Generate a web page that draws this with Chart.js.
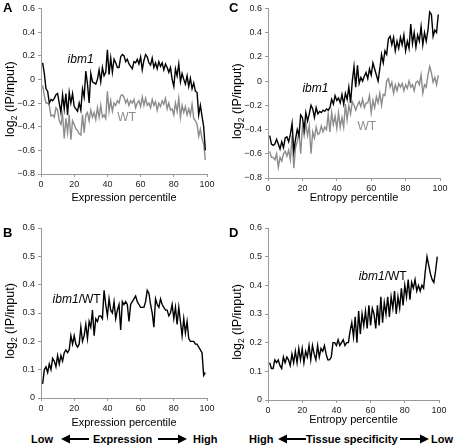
<!DOCTYPE html>
<html>
<head>
<meta charset="utf-8">
<script src="https://cdn.jsdelivr.net/npm/chart.js@4.4.1/dist/chart.umd.min.js"></script>
<style>
  html, body { margin: 0; padding: 0; background: #fff; }
  #fig { position: relative; width: 454px; height: 447px; font-family: "Liberation Sans", Arial, sans-serif; }
  canvas { position: absolute; }
  .letter { position: absolute; font-weight: bold; font-size: 13px; line-height: 14px; }
  .note { position: absolute; font-weight: bold; font-size: 11px; line-height: 14px; top: 432px; white-space: nowrap; }
  svg { position: absolute; }
</style>
</head>
<body>
<div id="fig">
  <canvas id="panelA" width="227" height="205" style="left:0;top:0"></canvas>
  <canvas id="panelC" width="227" height="205" style="left:227px;top:0"></canvas>
  <canvas id="panelB" width="227" height="220" style="left:0;top:210px"></canvas>
  <canvas id="panelD" width="227" height="220" style="left:227px;top:210px"></canvas>

  <div class="letter" style="left:3px;top:1px">A</div>
  <div class="letter" style="left:229px;top:1px">C</div>
  <div class="letter" style="left:3px;top:226px">B</div>
  <div class="letter" style="left:229px;top:226px">D</div>

  <div class="note" style="left:31px">Low</div>
  <svg style="left:61px;top:434px" width="28" height="10"><line x1="6" y1="5" x2="28" y2="5" stroke="#000" stroke-width="2"/><polygon points="0,5 9,0.5 9,9.5" fill="#000"/></svg>
  <div class="note" style="left:93px">Expression</div>
  <svg style="left:158px;top:434px" width="29" height="10"><line x1="0" y1="5" x2="22" y2="5" stroke="#000" stroke-width="2"/><polygon points="29,5 20,0.5 20,9.5" fill="#000"/></svg>
  <div class="note" style="left:193px">High</div>

  <div class="note" style="left:249px">High</div>
  <svg style="left:278px;top:434px" width="28" height="10"><line x1="6" y1="5" x2="28" y2="5" stroke="#000" stroke-width="2"/><polygon points="0,5 9,0.5 9,9.5" fill="#000"/></svg>
  <div class="note" style="left:306px">Tissue specificity</div>
  <svg style="left:400px;top:434px" width="29" height="10"><line x1="0" y1="5" x2="22" y2="5" stroke="#000" stroke-width="2"/><polygon points="29,5 20,0.5 20,9.5" fill="#000"/></svg>
  <div class="note" style="left:431px">Low</div>
</div>

<script>
const percentiles = [1,2,3,4,5,6,7,8,9,10,11,12,13,14,15,16,17,18,19,20,21,22,23,24,25,26,27,28,29,30,31,32,33,34,35,36,37,38,39,40,41,42,43,44,45,46,47,48,49,50,51,52,53,54,55,56,57,58,59,60,61,62,63,64,65,66,67,68,69,70,71,72,73,74,75,76,77,78,79,80,81,82,83,84,85,86,87,88,89,90,91,92,93,94,95,96,97,98,99]
const xTicks = [0, 20, 40, 60, 80, 100]

// A: log2(IP/input) vs expression percentile
const exprIbm1 = [0.14,0.05,-0.08,-0.10,-0.20,-0.17,-0.18,-0.16,-0.13,-0.12,
  -0.20,-0.28,-0.13,-0.25,-0.12,-0.30,-0.11,-0.20,-0.12,-0.23,
  -0.25,-0.27,-0.20,-0.26,-0.08,-0.15,0.07,-0.04,-0.20,0.05,
  -0.02,-0.03,-0.04,0.00,0.08,-0.02,0.10,0.03,0.06,0.25,
  0.04,0.18,0.06,0.17,0.14,0.10,0.10,0.19,0.21,0.20,
  0.15,0.17,0.13,0.11,0.09,0.15,0.14,0.17,0.13,0.19,
  0.08,0.16,0.21,0.19,0.14,0.12,0.18,0.10,0.14,0.09,
  0.15,0.11,0.14,0.08,0.13,0.10,0.06,0.10,0.00,-0.06,
  0.09,0.03,0.13,-0.02,0.05,0.00,-0.04,0.03,-0.06,0.01,
  -0.08,-0.03,-0.10,-0.11,-0.30,-0.22,-0.31,-0.40,-0.60]
const exprWT = [-0.05,-0.14,-0.20,-0.20,-0.22,-0.31,-0.30,-0.32,-0.24,-0.26,
  -0.35,-0.38,-0.30,-0.50,-0.33,-0.45,-0.30,-0.51,-0.35,-0.38,
  -0.42,-0.43,-0.46,-0.47,-0.30,-0.45,-0.30,-0.28,-0.35,-0.26,
  -0.32,-0.28,-0.34,-0.24,-0.32,-0.22,-0.32,-0.30,-0.33,-0.10,
  -0.27,-0.18,-0.27,-0.20,-0.22,-0.18,-0.20,-0.14,-0.13,-0.15,
  -0.20,-0.17,-0.22,-0.18,-0.20,-0.17,-0.24,-0.20,-0.18,-0.23,
  -0.15,-0.22,-0.16,-0.22,-0.20,-0.24,-0.17,-0.22,-0.19,-0.26,
  -0.20,-0.23,-0.18,-0.21,-0.16,-0.25,-0.20,-0.26,-0.25,-0.30,
  -0.20,-0.27,-0.16,-0.32,-0.22,-0.28,-0.23,-0.30,-0.25,-0.30,
  -0.21,-0.33,-0.35,-0.38,-0.48,-0.42,-0.50,-0.55,-0.68]

// C: log2(IP/input) vs entropy percentile
const entIbm1 = [-0.45,-0.52,-0.53,-0.52,-0.48,-0.52,-0.56,-0.50,-0.55,-0.47,
  -0.46,-0.50,-0.44,-0.35,-0.58,-0.48,-0.40,-0.45,-0.28,-0.30,
  -0.40,-0.26,-0.33,-0.27,-0.20,-0.23,-0.30,-0.22,-0.27,-0.25,
  -0.26,-0.24,-0.25,-0.23,-0.24,-0.22,-0.15,-0.19,-0.12,-0.16,
  -0.14,-0.18,-0.11,-0.19,-0.10,-0.15,-0.05,-0.18,0.00,0.12,
  -0.05,0.13,-0.02,0.03,0.00,0.04,0.07,0.02,0.10,0.05,
  0.15,0.10,0.05,0.00,0.10,0.22,0.15,0.25,0.22,0.35,
  0.37,0.30,0.36,0.25,0.33,0.27,0.36,0.30,0.38,0.25,
  0.33,0.27,0.47,0.31,0.40,0.28,0.38,0.33,0.45,0.30,
  0.40,0.33,0.42,0.57,0.55,0.37,0.42,0.40,0.55]
const entWT = [-0.58,-0.63,-0.63,-0.65,-0.60,-0.71,-0.63,-0.66,-0.60,-0.58,
  -0.62,-0.57,-0.65,-0.45,-0.72,-0.55,-0.50,-0.42,-0.60,-0.38,
  -0.45,-0.35,-0.45,-0.37,-0.60,-0.42,-0.47,-0.38,-0.44,-0.43,
  -0.37,-0.42,-0.38,-0.40,-0.27,-0.42,-0.26,-0.36,-0.29,-0.39,
  -0.26,-0.38,-0.30,-0.38,-0.19,-0.32,-0.20,-0.27,-0.17,-0.20,
  -0.24,-0.20,-0.17,-0.21,-0.15,-0.22,-0.18,-0.18,-0.12,-0.26,
  -0.16,-0.22,-0.13,-0.18,-0.10,-0.20,-0.11,-0.12,0.00,0.02,
  -0.05,-0.01,-0.10,-0.03,-0.08,-0.02,-0.05,-0.02,-0.08,-0.03,
  -0.06,0.00,-0.05,-0.03,-0.08,-0.01,0.00,-0.03,0.05,-0.10,
  -0.03,-0.05,0.05,0.12,0.07,-0.01,0.03,-0.03,0.05]

// B: ibm1/WT ratio vs expression percentile
const exprRatio = [0.05,0.10,0.11,0.09,0.12,0.10,0.14,0.13,0.11,0.15,
  0.12,0.15,0.13,0.16,0.17,0.16,0.17,0.22,0.19,0.22,
  0.19,0.18,0.19,0.25,0.20,0.22,0.26,0.21,0.27,0.25,
  0.31,0.22,0.28,0.27,0.29,0.29,0.28,0.38,0.33,0.29,
  0.35,0.31,0.30,0.34,0.28,0.31,0.33,0.24,0.34,0.33,
  0.34,0.33,0.27,0.33,0.34,0.35,0.36,0.34,0.33,0.32,
  0.32,0.32,0.34,0.38,0.37,0.33,0.30,0.25,0.35,0.33,
  0.32,0.35,0.33,0.32,0.31,0.31,0.29,0.30,0.33,0.28,
  0.32,0.26,0.32,0.27,0.22,0.28,0.23,0.27,0.21,0.20,
  0.20,0.20,0.19,0.19,0.18,0.17,0.16,0.08,0.09]

// D: ibm1/WT ratio vs entropy percentile
const entRatio = [0.13,0.11,0.11,0.14,0.13,0.14,0.12,0.11,0.15,0.13,
  0.15,0.14,0.12,0.16,0.13,0.17,0.13,0.18,0.14,0.18,
  0.13,0.17,0.15,0.19,0.14,0.19,0.16,0.14,0.19,0.15,
  0.18,0.17,0.19,0.16,0.14,0.14,0.15,0.20,0.20,0.19,
  0.21,0.19,0.20,0.21,0.19,0.20,0.20,0.24,0.27,0.22,
  0.29,0.20,0.31,0.23,0.30,0.26,0.31,0.25,0.33,0.26,
  0.32,0.30,0.25,0.33,0.26,0.36,0.27,0.34,0.30,0.36,
  0.29,0.36,0.32,0.38,0.30,0.36,0.32,0.39,0.33,0.40,
  0.36,0.42,0.35,0.41,0.39,0.42,0.38,0.40,0.38,0.40,
  0.39,0.45,0.50,0.47,0.44,0.42,0.41,0.45,0.50]

const FONT = '"Liberation Sans", Arial, sans-serif'
const BLACK = '#000'
const GRAY = '#8c8c8c'
const AXIS = '#9a9a9a'

const points = values => values.map((v, i) => ({ x: percentiles[i], y: v }))

const fmt = v => {
  if (Math.abs(v) < 1e-9) return '0'
  return (v < 0 ? '\u2212' : '') + Math.abs(v).toFixed(1)
}

// y title with a subscript 2, drawn rotated at the left edge
const yTitlePlugin = {
  id: 'yTitle',
  afterDraw(chart) {
    const ctx = chart.ctx
    const area = chart.chartArea
    const cy = (area.top + area.bottom) / 2 + 8
    ctx.save()
    ctx.translate(11, cy)
    ctx.rotate(-Math.PI / 2)
    ctx.fillStyle = '#000'
    ctx.textBaseline = 'middle'
    const big = '12.5px ' + FONT
    const small = '8.5px ' + FONT
    ctx.font = big
    const w1 = ctx.measureText('log').width
    const w3 = ctx.measureText(' (IP/input)').width
    ctx.font = small
    const w2 = ctx.measureText('2').width
    let x = -(w1 + w2 + w3) / 2
    ctx.font = big
    ctx.fillText('log', x, 0)
    x += w1
    ctx.font = small
    ctx.fillText('2', x, 4)
    x += w2
    ctx.font = big
    ctx.fillText(' (IP/input)', x, 0)
    ctx.restore()
  }
}

// series labels placed in data coordinates
const seriesLabelPlugin = {
  id: 'seriesLabels',
  afterDraw(chart, args, opts) {
    const ctx = chart.ctx
    const xs = chart.scales.x
    const ys = chart.scales.y
    ctx.save()
    ctx.textBaseline = 'middle'
    ;(opts.items || []).forEach(item => {
      let x = xs.getPixelForValue(item.x)
      const y = ys.getPixelForValue(item.y)
      item.parts.forEach(p => {
        ctx.font = (p.italic ? 'italic ' : '') + '12px ' + FONT
        ctx.fillStyle = p.color
        ctx.fillText(p.text, x, y)
        x += ctx.measureText(p.text).width
      })
    })
    ctx.restore()
  }
}

function makePanel(id, opts) {
  return new Chart(document.getElementById(id), {
    type: 'line',
    data: { datasets: opts.datasets },
    plugins: [yTitlePlugin, seriesLabelPlugin],
    options: {
      responsive: false,
      animation: false,
      layout: { padding: { left: 0, right: opts.padRight, top: opts.padTop, bottom: 0 } },
      elements: { point: { radius: 0 }, line: { borderWidth: 1.4, tension: 0 } },
      plugins: {
        legend: { display: false },
        tooltip: { enabled: false },
        seriesLabels: { items: opts.labels }
      },
      scales: {
        x: {
          type: 'linear',
          min: 0,
          max: 100,
          afterBuildTicks: s => { s.ticks = xTicks.map(v => ({ value: v })) },
          afterFit: s => { s.height = opts.xHeight },
          border: { color: AXIS, width: 1 },
          grid: { drawOnChartArea: false, drawTicks: true, tickLength: 3, color: AXIS },
          ticks: { color: '#222', font: { size: 9, family: FONT }, padding: 2, maxRotation: 0 },
          title: {
            display: true,
            text: opts.xTitle,
            color: '#000',
            font: { size: 11, family: FONT },
            padding: { top: 0, bottom: opts.titlePad }
          }
        },
        y: {
          min: opts.yMin,
          max: opts.yMax,
          afterBuildTicks: s => { s.ticks = opts.yTicks.map(v => ({ value: v })) },
          afterFit: s => { s.width = 41 },
          border: { color: AXIS, width: 1 },
          grid: { drawOnChartArea: false, drawTicks: true, tickLength: 3, color: AXIS },
          ticks: { color: '#222', font: { size: 9, family: FONT }, padding: 3, callback: v => fmt(v) }
        }
      }
    }
  })
}

const yTicksWide = [-0.8, -0.6, -0.4, -0.2, 0, 0.2, 0.4, 0.6]
const yTicksRatio = [0, 0.1, 0.2, 0.3, 0.4, 0.5, 0.6]

makePanel('panelA', {
  datasets: [
    { data: points(exprIbm1), borderColor: BLACK },
    { data: points(exprWT), borderColor: GRAY }
  ],
  yMin: -0.8, yMax: 0.6, yTicks: yTicksWide,
  xTitle: 'Expression percentile',
  padRight: 20, padTop: 6, xHeight: 31, titlePad: 0,
  labels: [
    { x: 16, y: 0.17, parts: [{ text: 'ibm1', italic: true, color: BLACK }] },
    { x: 46, y: -0.32, parts: [{ text: 'WT', color: GRAY }] }
  ]
})

makePanel('panelC', {
  datasets: [
    { data: points(entIbm1), borderColor: BLACK },
    { data: points(entWT), borderColor: GRAY }
  ],
  yMin: -0.8, yMax: 0.6, yTicks: yTicksWide,
  xTitle: 'Entropy percentile',
  padRight: 14, padTop: 7, xHeight: 27, titlePad: 0,
  labels: [
    { x: 20, y: -0.06, parts: [{ text: 'ibm1', italic: true, color: BLACK }] },
    { x: 52, y: -0.38, parts: [{ text: 'WT', color: GRAY }] }
  ]
})

makePanel('panelB', {
  datasets: [{ data: points(exprRatio), borderColor: BLACK }],
  yMin: 0, yMax: 0.6, yTicks: yTicksRatio,
  xTitle: 'Expression percentile',
  padRight: 20, padTop: 18, xHeight: 32, titlePad: 0,
  labels: [
    { x: 7, y: 0.346, parts: [{ text: 'ibm1', italic: true, color: BLACK }, { text: '/WT', color: BLACK }] }
  ]
})

makePanel('panelD', {
  datasets: [{ data: points(entRatio), borderColor: BLACK }],
  yMin: 0, yMax: 0.6, yTicks: yTicksRatio,
  xTitle: 'Entropy percentile',
  padRight: 15, padTop: 18, xHeight: 30, titlePad: 3,
  labels: [
    { x: 53, y: 0.43, parts: [{ text: 'ibm1', italic: true, color: BLACK }, { text: '/WT', color: BLACK }] }
  ]
})
</script>
</body>
</html>
